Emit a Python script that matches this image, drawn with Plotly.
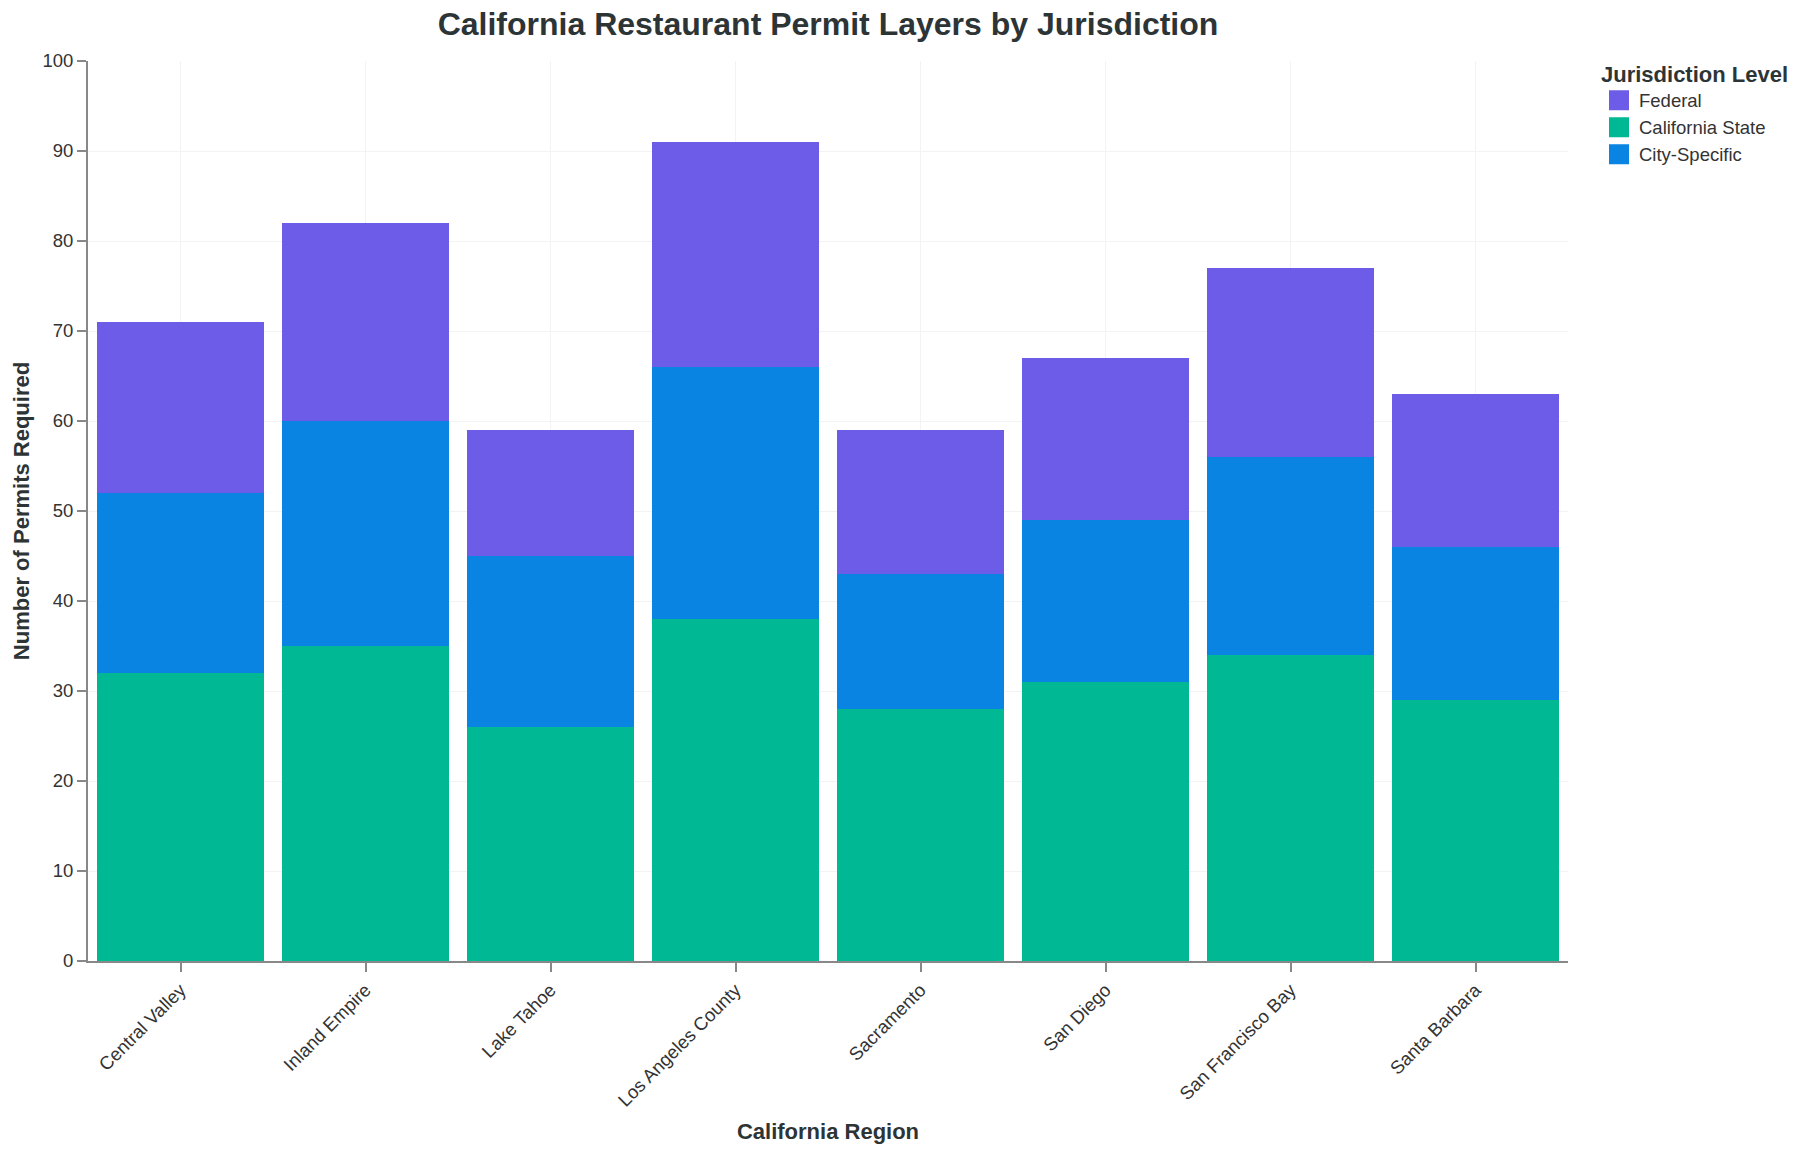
import plotly.graph_objects as go

regions = ["Central Valley", "Inland Empire", "Lake Tahoe", "Los Angeles County",
           "Sacramento", "San Diego", "San Francisco Bay", "Santa Barbara"]
state_permits = [32, 35, 26, 38, 28, 31, 34, 29]
city_permits = [20, 25, 19, 28, 15, 18, 22, 17]
federal_permits = [19, 22, 14, 25, 16, 18, 21, 17]

series_names = ["California State", "City-Specific", "Federal"]
series_values = [state_permits, city_permits, federal_permits]
series_colors = ["#00b894", "#0984e3", "#6c5ce7"]
legend_order = ["Federal", "California State", "City-Specific"]

W, H = 1802, 1154
ml, mr, mt, mb = 88, 234, 61, 193
FONT = "Liberation Sans, Arial, Helvetica, sans-serif"
DARK = "#2d3436"

fig = go.Figure()
for name, vals, col in zip(series_names, series_values, series_colors):
    fig.add_trace(go.Bar(
        x=regions, y=vals, name=name, marker=dict(color=col, line=dict(width=0)),
        showlegend=False,
    ))

# legend entries (larger square swatches)
color_of = dict(zip(series_names, series_colors))
for name in legend_order:
    fig.add_trace(go.Scatter(
        x=[None], y=[None], mode="markers", name=name,
        marker=dict(symbol="square", size=16, color=color_of[name],
                    line=dict(color=color_of[name], width=4)),
        showlegend=True, hoverinfo="skip",
    ))

plot_w = W - ml - mr
plot_h = H - mt - mb
fig.update_layout(
    width=W, height=H,
    margin=dict(l=ml, r=mr, t=mt, b=mb, pad=0, autoexpand=False),
    paper_bgcolor="white", plot_bgcolor="white",
    barmode="stack", bargap=0.1,
    font=dict(family=FONT, color="#333333"),
    title=dict(
        text="California Restaurant Permit Layers by Jurisdiction",
        font=dict(family=FONT, size=32, color=DARK, weight="bold"),
        x=0.5, xanchor="center", xref="paper",
        y=1 - 24 / H, yanchor="middle", yref="container",
    ),
    legend=dict(
        title=dict(text="Jurisdiction Level", font=dict(family=FONT, size=22, color=DARK, weight="bold")),
        font=dict(family=FONT, size=18.5, color="#333333"),
        traceorder="normal",
        x=(1599 - ml) / plot_w, xanchor="left",
        y=1.0 + 8 / plot_h, yanchor="top",
        bgcolor="rgba(0,0,0,0)", borderwidth=0,
        itemsizing="trace",
    ),
    xaxis=dict(
        type="category", categoryorder="array", categoryarray=regions,
        range=[-0.5, len(regions) - 0.5],
        title=dict(text="California Region", font=dict(family=FONT, size=22, color=DARK, weight="bold"), standoff=14),
        tickangle=-45, tickfont=dict(family=FONT, size=18.5, color="#333333"),
        showgrid=True, gridcolor="#f3f3f3", gridwidth=1,
        showline=True, linecolor="#888888", linewidth=2,
        ticks="outside", ticklen=9, tickwidth=2, tickcolor="#888888",
        zeroline=False,
    ),
    yaxis=dict(
        range=[0, 100], dtick=10, tick0=0,
        title=dict(text="Number of Permits Required", font=dict(family=FONT, size=22, color=DARK, weight="bold"), standoff=7),
        tickfont=dict(family=FONT, size=18.5, color="#333333"),
        showgrid=True, gridcolor="#f3f3f3", gridwidth=1,
        showline=True, linecolor="#888888", linewidth=2,
        ticks="outside", ticklen=9, tickwidth=2, tickcolor="#888888",
        zeroline=False,
    ),
)

fig.write_html("out.html")
